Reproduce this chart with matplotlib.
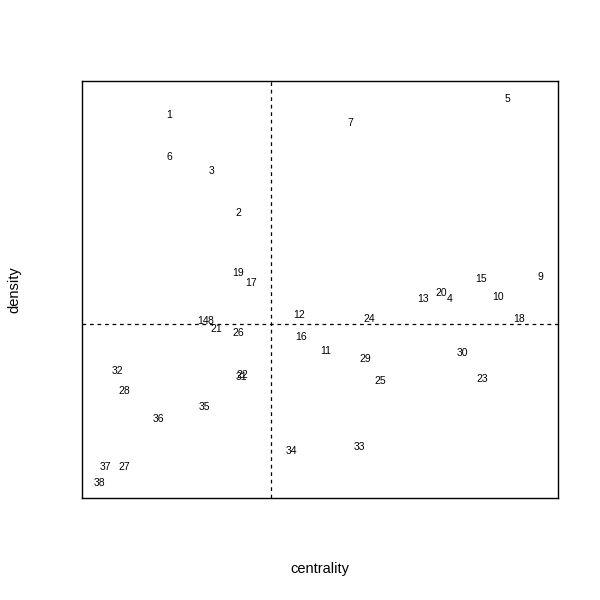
import matplotlib.pyplot as plt

# estimated positions of each node (centrality, density)
labels = [str(i) for i in range(1, 39)]
centrality = [169, 238, 212, 450, 507, 169, 350, 210, 540, 498,
              326, 299, 423, 203, 481, 301, 251, 519, 238, 441,
              216, 242, 482, 369, 380, 238, 124, 124, 365, 462,
              241, 117, 359, 291, 204, 158, 105, 99]
density = [485, 388, 429, 302, 502, 443, 478, 279, 324, 303,
           250, 285, 301, 279, 321, 264, 318, 281, 327, 307,
           271, 226, 222, 282, 220, 268, 133, 209, 242, 248,
           223, 230, 154, 150, 193, 181, 133, 117]
mean_centrality = 271
mean_density = 276

fig = plt.figure(figsize=(6, 6), dpi=100)
ax = fig.add_axes([82 / 600, 102 / 600, 476 / 600, 417 / 600])

# node numbers as text markers (some overlap, as in the original)
for lab, x, y in zip(labels, centrality, density):
    ax.text(x, y - 0.5, lab, fontsize=7.5, ha="center", va="center",
            family="Liberation Sans")

ax.axvline(mean_centrality, color="black", linestyle="--", linewidth=0.9, dashes=(3, 3))
ax.axhline(mean_density, color="black", linestyle="--", linewidth=0.9, dashes=(3, 3))

ax.set_xlim(82, 558)
ax.set_ylim(102, 519)
ax.set_xticks([])
ax.set_yticks([])
for s in ax.spines.values():
    s.set_linewidth(1)

fig.text(320 / 600, 1 - 569 / 600, "centrality", ha="center", va="center",
         fontsize=10.5, family="Liberation Sans")
fig.text(14 / 600, 1 - 290 / 600, "density", ha="center", va="center",
         rotation=90, fontsize=10.5, family="Liberation Sans")

fig.savefig("out.png", dpi=100)
